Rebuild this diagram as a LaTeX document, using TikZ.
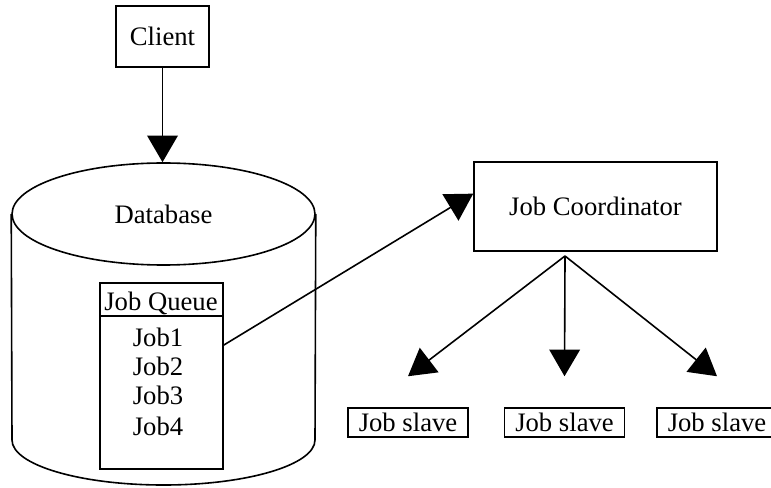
\documentclass[tikz,border=0pt]{standalone}
\usepackage{fontspec}
\setmainfont{Liberation Serif}
\usepackage{tikz}
\usetikzlibrary{arrows.meta,shapes.geometric}

\begin{document}
\begin{tikzpicture}[x=0.375pt,y=-0.375pt,line width=0.6pt,
			box/.style={draw,rectangle,inner sep=0pt},
			arr/.style={-{Triangle[length=10pt,width=11.5pt]}}]
			\useasboundingbox (0,0) rectangle (771,487);
			\node[box,minimum width=34.9pt,minimum height=22.9pt] (client) at (162.5,36.5) {Client};
			% database
			\node[draw,ellipse,inner sep=0pt,minimum width=113.6pt,minimum height=38.25pt] (db) at (163.5,214) {Database\hspace{7pt}};
			\draw (db.west) -- (12,440) arc[start angle=180,end angle=0,x radius=151.5,y radius=45] -- (db.east);
			\node[box,minimum width=46.1pt,minimum height=69.75pt] (queue) at (161.5,376) {};
			\draw (queue.north west) ++(0,34) -- ++(124,0);
			\node at (161,303) {Job Queue};
			\foreach \i/\y in {1/337,2/366,3/395,4/426}
				\node at (158,\y) {Job\i};
			\node[box,minimum width=91.1pt,minimum height=33.4pt] (coord) at (595.5,206.5) {Job Coordinator};
			\coordinate (fork) at (565,256);
			\foreach \n/\x in {1/408,2/564.5,3/717}
				\node[box,minimum width=45pt,minimum height=10.9pt] (s\n) at (\x,422.5) {Job slave};
			\draw[arr] (client.south) -- (client.south |- db.north);
			\draw[arr] ([yshift=11.6pt]queue.east) -- (coord.174);
			\foreach \n in {1,2,3}
				\draw[arr] (fork) -- ([yshift=11.6pt]s\n.north);
		\end{tikzpicture}
\end{document}
